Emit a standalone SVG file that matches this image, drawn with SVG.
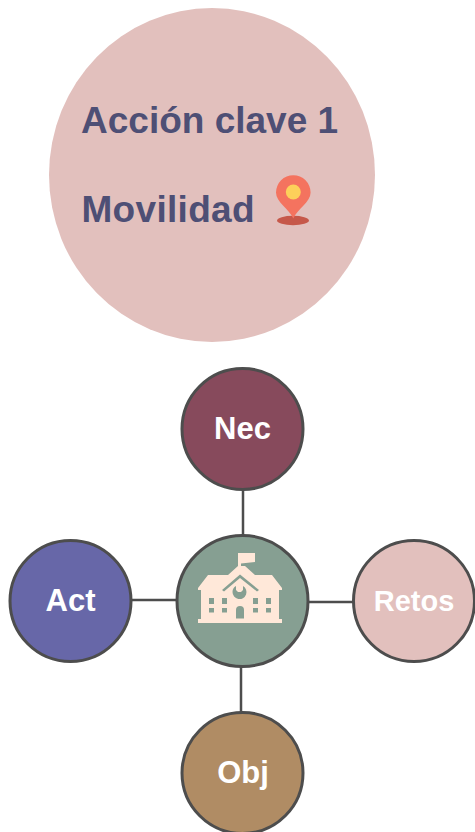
<svg xmlns="http://www.w3.org/2000/svg" width="475" height="832" viewBox="0 0 475 832">
<style>
.n{stroke:#4d4d4d;stroke-width:3}
.c{stroke:#4d4d4d;stroke-width:2.500;fill:none}
.l{font-family:"Liberation Sans",Arial,sans-serif;font-weight:700;font-size:31px;fill:#fff;text-anchor:middle}
.t{font-family:"Liberation Sans",Arial,sans-serif;font-weight:700;font-size:37px;fill:#4e4f75}
.b{fill:#ffe8d9}
.g{fill:#869f92}
</style>
<rect width="475" height="832" fill="#fff"/>
<g id="title">
<ellipse cx="212" cy="175" rx="163" ry="167" fill="#e2c0bd"/>
<text class="t" x="81" y="133">Acción clave 1</text>
<text class="t" x="81.500" y="222" letter-spacing="0.300">Movilidad</text>
<ellipse cx="293" cy="220.500" rx="16" ry="4.700" fill="#c6584a"/>
<path d="M293.300 218.500C289 209 276 202 276 192.500A17.300 17.300 0 0 1 310.600 192.500C310.600 202 297.500 209 293.300 218.500Z" fill="#f4735f"/>
<circle cx="293.300" cy="192" r="7.500" fill="#fdd05a"/>
</g>
<g id="connectors">
<path class="c" d="M243 490V535M131 600H176M309 602H354M241 667V712"/>
</g>
<g id="nec"><circle class="n" cx="242.500" cy="429" r="60.500" fill="#874a5c"/><text class="l" x="242.500" y="439">Nec</text></g>
<g id="act"><circle class="n" cx="70.500" cy="601" r="60.500" fill="#6767a8"/><text class="l" x="70.500" y="611">Act</text></g>
<g id="retos"><circle class="n" cx="414" cy="601" r="60.500" fill="#e2c0bd"/><text class="l" x="414" y="611" style="font-size:29px">Retos</text></g>
<g id="obj"><circle class="n" cx="242.500" cy="773" r="60.500" fill="#b08c64"/><text class="l" x="243" y="783">Obj</text></g>
<g id="center">
<circle class="n" cx="242.500" cy="601" r="65.500" fill="#869f92"/>
<path class="b" d="M238 553H255V562L241 563.500V566L245 566L255 575H272L282 588V590H279V619H282V623H198V619H201V590H198V588L208 575H228L238 566Z"/>
<path class="g" d="M222 590 240 574.500 259 590 257 591.500 240 578 224 591.500Z"/>
<path class="g" d="M232.500 592A7 7 0 0 1 236 586V590L238 592H241L243 590V586A7 7 0 1 1 232.500 592Z"/>
<rect class="g" x="209" y="598" width="5" height="6"/><rect class="g" x="222" y="598" width="5" height="6"/><rect class="g" x="253" y="598" width="5" height="6"/><rect class="g" x="266" y="598" width="5" height="6"/>
<rect class="g" x="209" y="608" width="5" height="4.500"/><rect class="g" x="222" y="608" width="5" height="4.500"/><rect class="g" x="253" y="608" width="5" height="4.500"/><rect class="g" x="266" y="608" width="5" height="4.500"/>
<path class="g" d="M236 618.500V610A4 4 0 0 1 244 610V618.500Z"/>
</g>
</svg>
